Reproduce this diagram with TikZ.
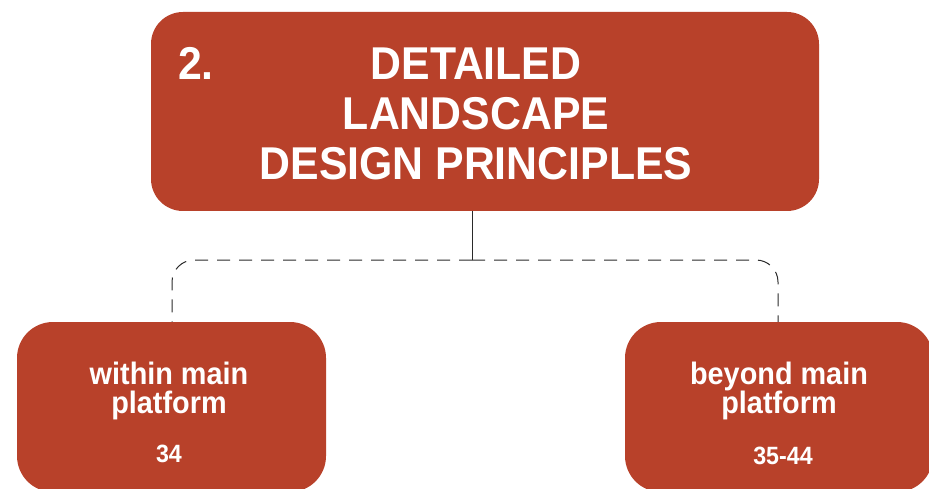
\documentclass[tikz,border=0pt]{standalone}
\usepackage{fontspec}
\newfontfamily\lab{Liberation Sans}[FakeStretch=0.93]
\definecolor{boxred}{HTML}{B8412A}
\definecolor{linegray}{HTML}{2A2A2A}
\begin{document}
\begin{tikzpicture}[x=1pt,y=-1pt,
  redbox/.style={fill=boxred, draw=none, inner sep=0pt},
  ttl/.style={text=white, inner sep=0pt, anchor=base, font=\lab\bfseries\fontsize{46}{50}\selectfont},
  sub/.style={text=white, inner sep=0pt, anchor=base, font=\lab\bfseries\fontsize{31}{31}\selectfont},
  num/.style={text=white, inner sep=0pt, anchor=base, font=\lab\bfseries\fontsize{25}{25}\selectfont},
  conn/.style={draw=linegray, line width=1pt},
]
\useasboundingbox (0,0) rectangle (929,489);
% boxes
\node[redbox, rounded corners=32pt, minimum width=668pt, minimum height=199pt] (top) at (485,111.5) {};
\node[redbox, rounded corners=36pt, minimum width=309pt, minimum height=170pt] (left) at (171.5,407) {};
\node[redbox, rounded corners=36pt, minimum width=308pt, minimum height=170pt] (right) at (779,407) {};
% title text
\node[ttl, anchor=base west] (num2) at (178,80) {2.};
\node[ttl] (t1) at (476,80) {DETAILED};
\node[ttl] (t2) at (476,130) {LANDSCAPE};
\node[ttl] (t3) at (476,180) {DESIGN PRINCIPLES};
% left text
\node[sub] (l1) at (169,384) {within main};
\node[sub] (l2) at (169,413) {platform};
\node[num] (l3) at (169,462) {34};
% right text
\node[sub] (r1) at (779,384) {beyond main};
\node[sub] (r2) at (779,413) {platform};
\node[num] (r3) at (783,464) {35-44};
% connectors
\coordinate (j) at (472,260);
\draw[conn] (top.south -| j) -- (j);
\draw[conn, dash pattern=on 13pt off 9pt, rounded corners=22pt] (j) -| ([xshift=0.5pt]left.north);
\draw[conn, dash pattern=on 13pt off 9pt, rounded corners=22pt] (j) -| ([xshift=-1pt]right.north);
\end{tikzpicture}
\end{document}
